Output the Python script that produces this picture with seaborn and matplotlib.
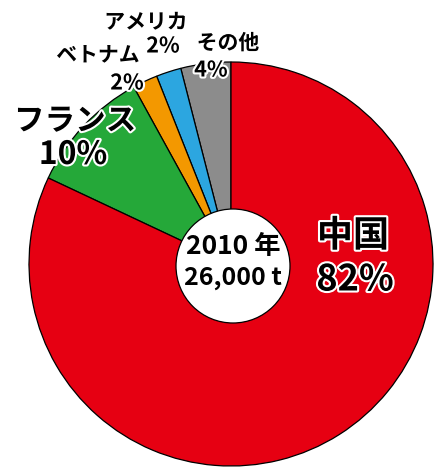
import matplotlib
matplotlib.use("Agg")
import matplotlib.pyplot as plt
import matplotlib.patheffects as pe
from matplotlib.patches import Circle
import seaborn as sns

# Production share by country, 2010 (counter-clockwise from 12 o'clock)
countries = ["その他", "アメリカ", "ベトナム", "フランス", "中国"]
shares = [4, 2, 2, 10, 82]
year_label = "2010 年"
total_label = "26,000 t"

sns.set_theme(style="white")
plt.rcParams["font.family"] = ["Noto Sans CJK JP", "DejaVu Sans"]

palette = ["#8c8c8c", "#2ca6e0", "#f39800", "#25a839", "#e60012"]

W, H = 436, 469
fig = plt.figure(figsize=(W / 100, H / 100), dpi=100)
ax = fig.add_axes([0, 0, 1, 1])

cx, cy, R = 231, H - 264, 202
ax.pie(shares, colors=palette, startangle=90, counterclock=True,
       center=(cx, cy), radius=R,
       wedgeprops=dict(edgecolor="black", linewidth=0.9))

# white centre disc
ax.add_patch(Circle((233, H - 266), 57, facecolor="white",
                    edgecolor="black", linewidth=0.9, zorder=5))

ax.set_xlim(0, W)
ax.set_ylim(0, H)
ax.set_aspect("equal")
ax.axis("off")

halo = [pe.withStroke(linewidth=3, foreground="white")]


def put(x, y, s, size):
    ax.text(x, H - y, s, ha="center", va="center", fontsize=size,
            fontweight="bold", color="black", path_effects=halo, zorder=6)


# (name position, value position, name size, value size)
layout = {
    "その他": ((228, 43), (211, 70), 15, 15.5),
    "アメリカ": ((146, 22), (163, 46), 15, 15.5),
    "ベトナム": ((98, 55), (127, 83), 15, 15.5),
    "フランス": ((75, 121), (73, 155), 22, 23),
    "中国": ((353, 236), (355, 280), 26, 26),
}
for name, share in zip(countries, shares):
    (nx, ny), (vx, vy), ns, vs = layout[name]
    put(nx, ny, name, ns)
    put(vx, vy, f"{share}%", vs)

for y, s, size in [(246, year_label, 19), (278, total_label, 18)]:
    ax.text(233, H - y, s, ha="center", va="center", fontsize=size,
            fontweight="bold", color="black", zorder=7)

fig.savefig("out.png", dpi=100, facecolor="white")
